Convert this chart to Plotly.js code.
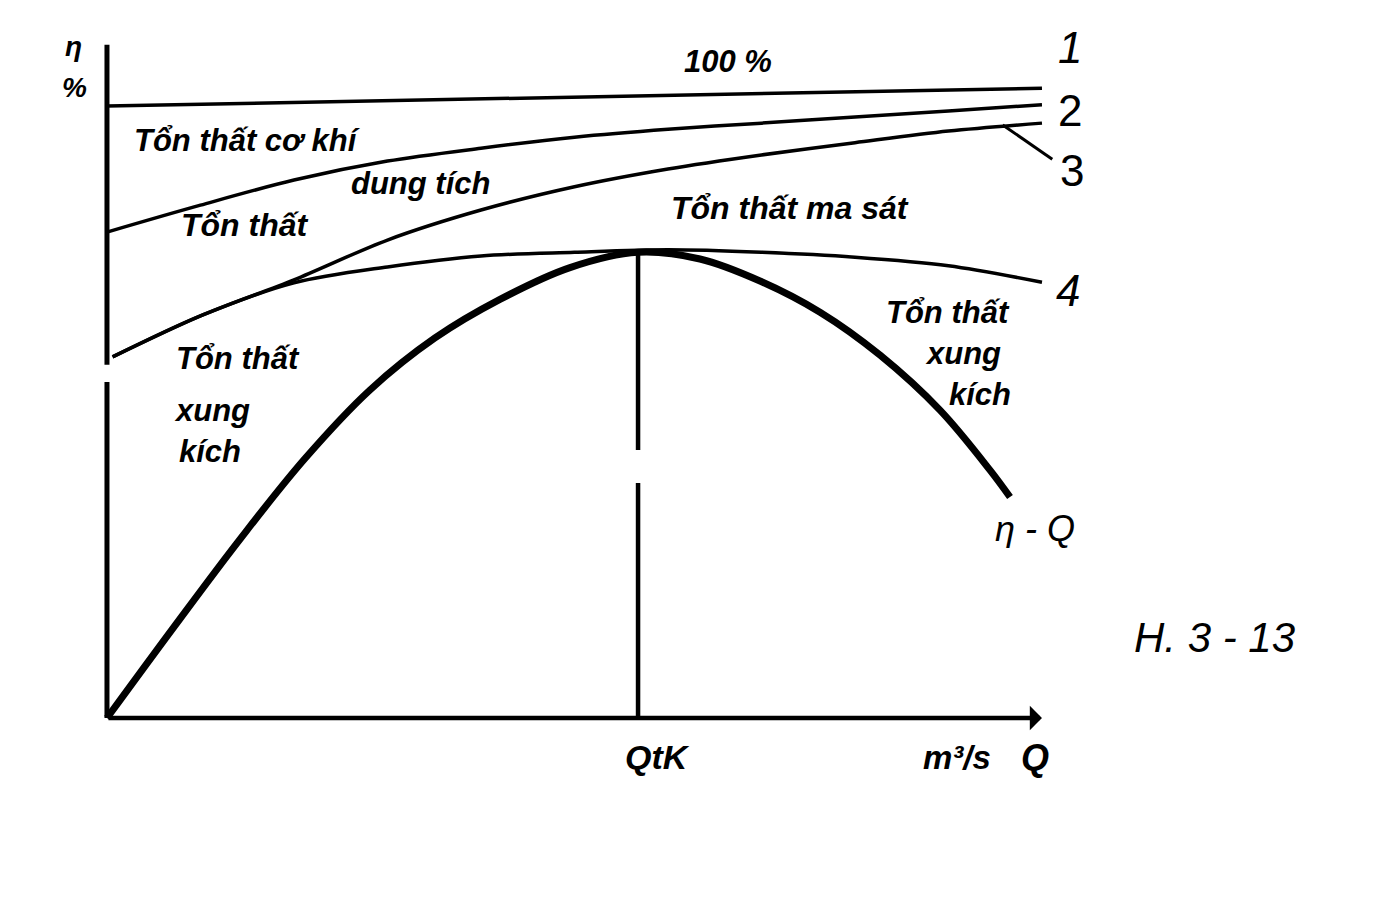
<!DOCTYPE html>
<html>
<head>
<meta charset="utf-8">
<script src="https://cdn.plot.ly/plotly-3.0.1.min.js"></script>
<style>html,body{margin:0;padding:0;background:#fff;}#chart{width:1384px;height:912px;}</style>
</head>
<body>
<div id="chart"></div>
<script>
// ---- Data (Q in arbitrary m3/s units, eta in %) ----
var qGrid   = [0.06, 1, 2, 3, 4, 5, 6, 7, 8, 9, 10];
var qLine1  = [0, 5, 10];
var etaLine1 = [100.0, 101.5, 102.9];                 // line 1 : 100 %
var qLine2  = [0, 1, 2, 3, 4, 5, 6, 7, 8, 9, 10];
var etaLine2 = [79.4, 83.8, 87.9, 91.0, 93.1, 94.9, 96.2, 97.2, 98.2, 99.2, 100.2]; // line 2
var etaLine3 = [59.0, 65.7, 71.6, 78.1, 83.0, 86.8, 89.7, 92.0, 94.0, 95.9, 97.2];  // line 3
var etaLine4 = [59.0, 65.7, 71.1, 73.7, 75.5, 76.1, 76.5, 76.1, 75.3, 73.9, 71.2];  // line 4
var qEff    = [0, 0.727, 1.422, 2.118, 2.813, 3.508, 4.203, 4.952, 5.679, 6.342, 6.984, 7.626, 8.267, 8.909, 9.444, 9.658];
var etaEff  = [0, 15.1, 29.2, 42.4, 53.6, 62.1, 68.4, 73.6, 76.1, 75.0, 71.4, 66.3, 59.3, 50.3, 40.5, 36.1]; // eta - Q
var qTK     = 5.68;      // Q at best efficiency
var etaTK   = 76.1;
var qLeader3 = [9.58, 10.11];
var etaLeader3 = [96.9, 91.3];
var qAxisEnd = 10;
var etaAxisTop = 110;

var lineLabels = ["1", "2", "3", "4"];
var lossLabels = ["Tổn thất cơ khí", "dung tích", "Tổn thất", "Tổn thất ma sát", "Tổn thất", "xung", "kích"];

var black = "#000";
var hand = "Liberation Sans, Arial, sans-serif";

function ln(x, y, w, shape, sm) {
  return {x: x, y: y, mode: "lines", type: "scatter", hoverinfo: "skip",
          line: {color: black, width: w, shape: shape || "linear", smoothing: sm || 0.9}, connectgaps: false};
}

var traces = [
  ln(qLine1, etaLine1, 3.5),
  ln(qLine2, etaLine2, 3.5, "spline"),
  ln(qGrid, etaLine3, 3.5, "spline"),
  ln(qGrid, etaLine4, 3.5, "spline"),
  ln(qEff, etaEff, 7, "spline", 1),
  ln(qLeader3, etaLeader3, 3),
  // vertical line at QtK (with the gap seen in the print)
  ln([qTK, qTK, null, qTK, qTK], [0, 38.4, null, 43.8, etaTK], 4.5),
  // eta axis (broken near the middle, as printed)
  ln([0, 0, null, 0, 0], [0, 54.9, null, 57.7, etaAxisTop], 5)
];

function txt(x, y, t, size, opts) {
  opts = opts || {};
  return Object.assign({
    x: x, y: y, xref: "x", yref: "y", text: t, showarrow: false,
    xanchor: "center", yanchor: "middle",
    font: {family: hand, size: size, color: black, weight: 700, style: "italic"}
  }, opts);
}

var plain = {family: "Liberation Sans, Arial, sans-serif", color: black, weight: 400};

var annotations = [
  // Q axis with arrow
  {x: qAxisEnd, y: 0, ax: 0, ay: 0, xref: "x", yref: "y", axref: "x", ayref: "y",
   showarrow: true, arrowhead: 1, arrowsize: 0.9, arrowwidth: 4.5, arrowcolor: black, text: ""},
  txt(-0.36, 109.8, "η", 28),
  txt(-0.35, 103.0, "%", 28),
  txt(6.64, 107.2, "100 %", 31),
  txt(1.50, 94.4, lossLabels[0], 31),
  txt(3.35, 87.4, lossLabels[1], 31),
  txt(1.48, 80.6, lossLabels[2], 32),
  txt(7.30, 83.3, lossLabels[3], 32),
  txt(0.72, 58.8, lossLabels[4], 31, {xanchor: "left"}),
  txt(0.70, 50.3, lossLabels[5], 31, {xanchor: "left"}),
  txt(0.75, 43.5, lossLabels[6], 31, {xanchor: "left"}),
  txt(8.99, 66.3, lossLabels[4], 31),
  txt(9.16, 59.5, lossLabels[5], 31),
  txt(9.34, 52.8, lossLabels[6], 31),
  txt(9.93, 31.0, "η - Q", 36, {font: {family: hand, size: 36, color: black, weight: 400, style: "italic"}}),
  txt(5.89, -6.4, "QtK", 34),
  txt(9.09, -6.4, "m³/s", 33),
  txt(9.93, -6.4, "Q", 36),
  txt(10.30, 109.5, lineLabels[0], 44, {font: Object.assign({size: 44, style: "italic"}, plain)}),
  txt(10.30, 99.3, lineLabels[1], 44, {font: Object.assign({size: 44, style: "normal"}, plain)}),
  txt(10.32, 89.5, lineLabels[2], 44, {font: Object.assign({size: 44, style: "normal"}, plain)}),
  txt(10.28, 69.9, lineLabels[3], 44, {font: Object.assign({size: 44, style: "italic"}, plain)}),
  txt(11.85, 13.2, "H. 3 - 13", 42, {font: Object.assign({size: 42, style: "italic"}, plain)})
];

var layout = {
  width: 1384, height: 912,
  margin: {l: 0, r: 0, t: 0, b: 0, pad: 0},
  paper_bgcolor: "#fff", plot_bgcolor: "#fff",
  showlegend: false,
  xaxis: {range: [-1.144, 13.658], visible: false, fixedrange: true},
  yaxis: {range: [-31.70, 117.32], visible: false, fixedrange: true},
  annotations: annotations
};

Plotly.newPlot("chart", traces, layout, {staticPlot: true, displayModeBar: false});
</script>
</body>
</html>
